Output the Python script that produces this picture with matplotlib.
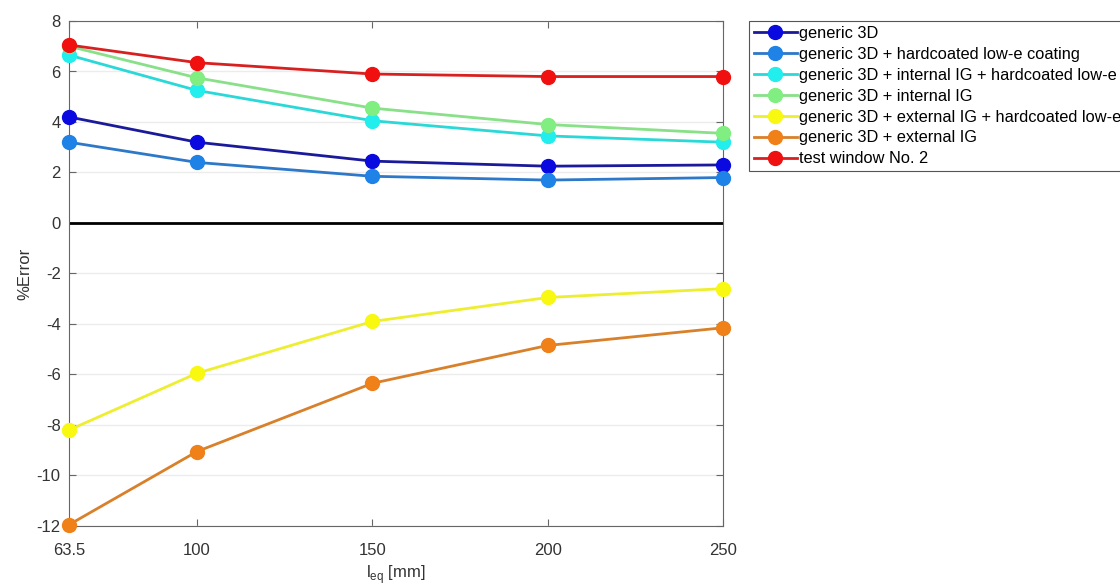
import numpy as np
import matplotlib
matplotlib.use('Agg')
import matplotlib.pyplot as plt

plt.rcParams['font.family'] = ['Liberation Sans', 'DejaVu Sans']
plt.rcParams['axes.unicode_minus'] = False

leq = [63.5, 100, 150, 200, 250]
xtick_labels = ['63.5', '100', '150', '200', '250']

generic_3d = [4.2, 3.2, 2.45, 2.25, 2.3]
generic_lowe = [3.2, 2.4, 1.85, 1.7, 1.8]
generic_int_lowe = [6.65, 5.25, 4.05, 3.45, 3.2]
generic_int = [7.0, 5.75, 4.55, 3.9, 3.55]
generic_ext_lowe = [-8.2, -5.95, -3.9, -2.95, -2.6]
generic_ext = [-11.95, -9.05, -6.35, -4.85, -4.15]
test_window = [7.05, 6.35, 5.9, 5.8, 5.8]

series = [
    ('generic 3D', generic_3d, '#0a0ae0', '#1a1a9a'),
    ('generic 3D + hardcoated low-e coating', generic_lowe, '#1e82e6', '#2d78c8'),
    ('generic 3D + internal IG + hardcoated low-e', generic_int_lowe, '#22eeee', '#2ad8d8'),
    ('generic 3D + internal IG', generic_int, '#80ee80', '#88e088'),
    ('generic 3D + external IG + hardcoated low-e', generic_ext_lowe, '#f8f810', '#eeee30'),
    ('generic 3D + external IG', generic_ext, '#f08018', '#d8802a'),
    ('test window No. 2', test_window, '#f01010', '#d82020'),
]

fig = plt.figure(figsize=(11.2, 5.86), dpi=100)
ax = fig.add_axes([69 / 1120, 1 - 526 / 586, 654 / 1120, 505 / 586])

ax.axhline(0, color='black', linewidth=2, zorder=1)
for label, vals, mcol, lcol in series:
    ax.plot(leq, vals, '-o', color=lcol, markerfacecolor=mcol, markeredgecolor=mcol,
            markersize=10, linewidth=2, label=label, zorder=3, clip_on=False)

ax.set_xlim(63.5, 250)
ax.set_ylim(-12, 8)
ax.set_xticks(leq)
ax.set_xticklabels(xtick_labels)
ax.set_yticks(np.arange(-12, 9, 2))
ax.yaxis.grid(True, color='#ececec', linewidth=1)
ax.set_axisbelow(True)
ax.tick_params(direction='in', top=True, right=True, labelsize=12, labelcolor='#333333',
               color='#666666', length=5)
ax.tick_params(axis='x', pad=12)
ax.tick_params(axis='y', pad=6)
for sp in ax.spines.values():
    sp.set_color('#666666')

ax.set_ylabel('%Error', fontsize=12, color='#333333', labelpad=3)
ax.set_xlabel(r'l$_{\mathregular{eq}}$ [mm]', fontsize=12, color='#333333', labelpad=4)

leg = ax.legend(loc='upper left', bbox_to_anchor=(1.04, 1.0), borderaxespad=0,
                fontsize=11.8, labelspacing=0.36, handlelength=2.6, handletextpad=0.15,
                fancybox=False, edgecolor='#555555', framealpha=1, borderpad=0.3)
leg.get_frame().set_linewidth(0.8)

fig.savefig('out.png', dpi=100)
